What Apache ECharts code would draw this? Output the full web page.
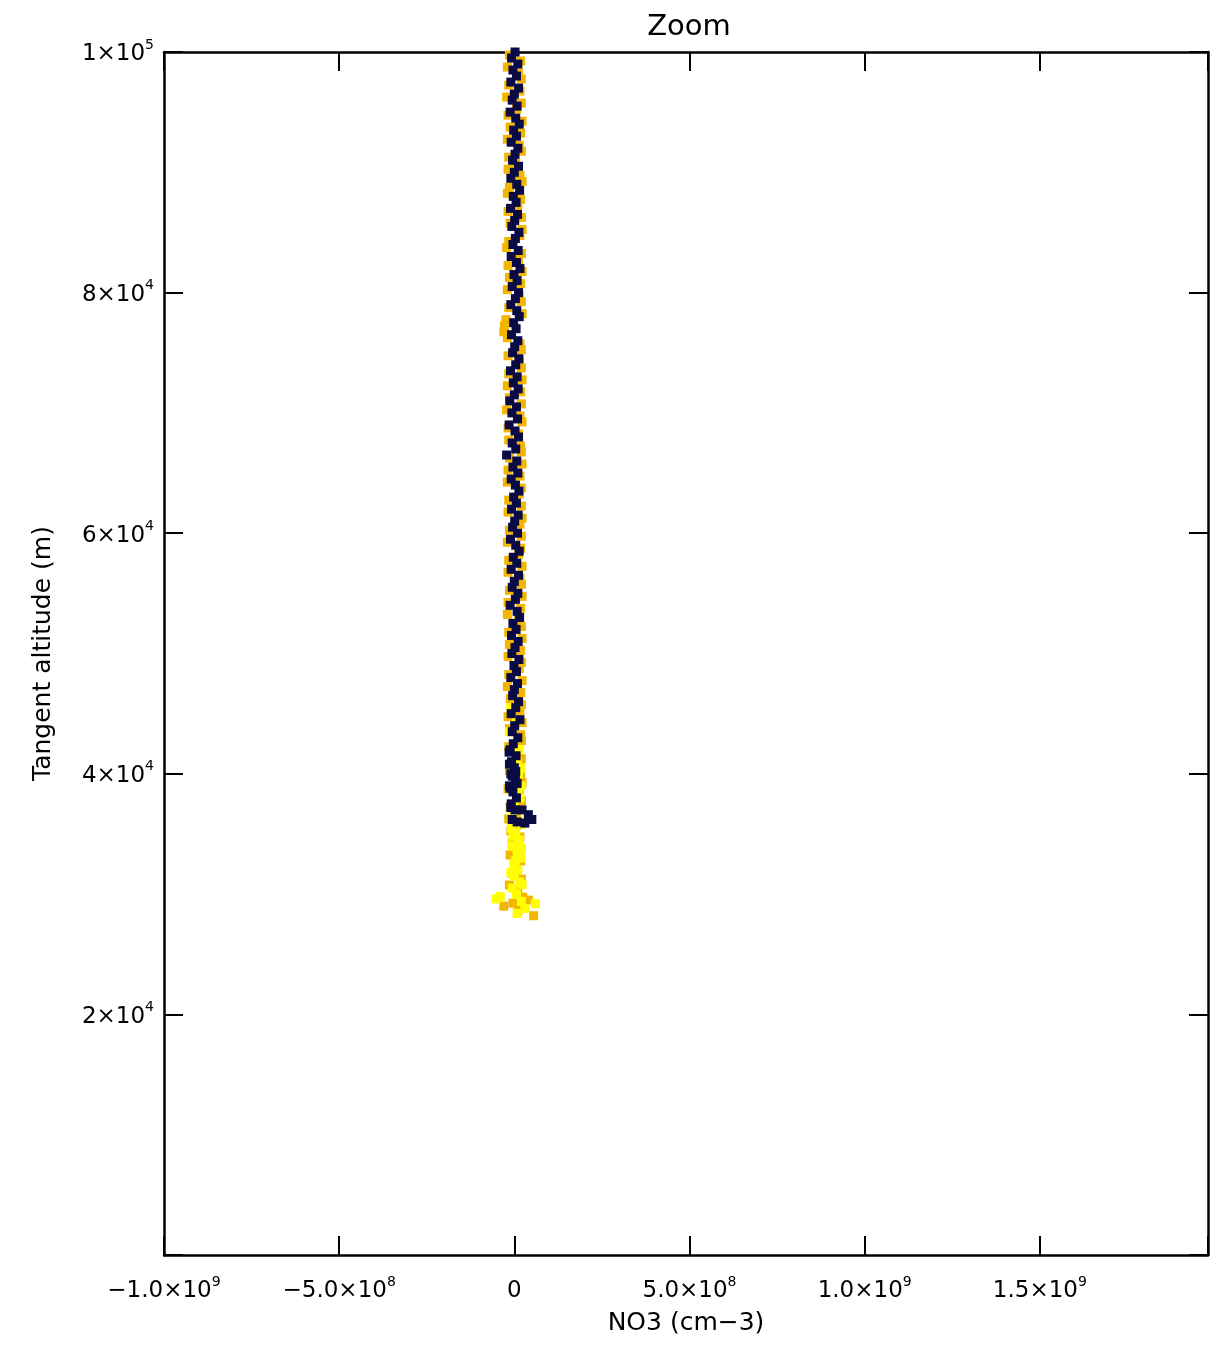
<!DOCTYPE html>
<html>
<head>
<meta charset="utf-8">
<script src="https://cdn.jsdelivr.net/npm/echarts@6/dist/echarts.min.js"></script>
<style>
  html, body { margin: 0; padding: 0; background: #fff; }
  #main { width: 1223px; height: 1349px; }
</style>
</head>
<body>
<div id="main"></div>
<script>
// tick values
var xTicks = [-1.0e9, -5.0e8, 0, 5.0e8, 1.0e9, 1.5e9];
var yTicks = [2e4, 4e4, 6e4, 8e4, 1e5];

// [NO3 (cm-3), tangent altitude (m)]
var orangePoints = [
  [-14e6, 99750], [18e6, 99250], [-20e6, 98750], [12e6, 98250], [20e6, 97750], [-16e6, 97250],
  [16e6, 96750], [-22e6, 96250], [20e6, 95750], [6e6, 95250], [-18e6, 94750], [22e6, 94250],
  [-12e6, 93750], [18e6, 93250], [-20e6, 92750], [14e6, 92250], [20e6, 91750], [-16e6, 91250],
  [4e6, 90750], [-18e6, 90250], [16e6, 89750], [22e6, 89250], [-14e6, 88750], [-20e6, 88250],
  [18e6, 87750], [10e6, 87250], [-18e6, 86750], [20e6, 86250], [-12e6, 85750], [22e6, 85250],
  [16e6, 84750], [-16e6, 84250], [-22e6, 83750], [20e6, 83250], [12e6, 82750], [-18e6, 82250],
  [22e6, 81750], [-14e6, 81250], [18e6, 80750], [-20e6, 80250], [14e6, 79750], [20e6, 79250],
  [-16e6, 78750], [22e6, 78250], [-24e6, 77750], [-28e6, 77250], [-30e6, 76750], [-20e6, 76250],
  [16e6, 75750], [20e6, 75250], [-18e6, 74750], [14e6, 74250], [20e6, 73750], [-16e6, 73250],
  [22e6, 72750], [-20e6, 72250], [18e6, 71750], [-14e6, 71250], [20e6, 70750], [-22e6, 70250],
  [16e6, 69750], [22e6, 69250], [-18e6, 68750], [12e6, 68250], [-16e6, 67750], [18e6, 67250],
  [20e6, 66750], [-14e6, 66250], [22e6, 65750], [-18e6, 65250], [16e6, 64750], [-20e6, 64250],
  [20e6, 63750], [14e6, 63250], [-16e6, 62750], [20e6, 62250], [-18e6, 61750], [22e6, 61250],
  [16e6, 60750], [-14e6, 60250], [20e6, 59750], [-20e6, 59250], [18e6, 58750], [12e6, 58250],
  [-16e6, 57750], [22e6, 57250], [-18e6, 56750], [16e6, 56250], [20e6, 55750], [-14e6, 55250],
  [22e6, 54750], [-18e6, 54250], [18e6, 53750], [-20e6, 53250], [12e6, 52750], [20e6, 52250],
  [-16e6, 51750], [22e6, 51250], [-14e6, 50750], [18e6, 50250], [-18e6, 49750], [20e6, 49250],
  [14e6, 48750], [-16e6, 48250], [22e6, 47750], [-20e6, 47250], [18e6, 46750], [-12e6, 46250],
  [20e6, 45750], [16e6, 45250], [-18e6, 44750], [22e6, 44250], [-14e6, 43750], [18e6, 43250],
  [20e6, 42750], [-16e6, 42250], [12e6, 41750], [20e6, 41250], [16e6, 40750], [-14e6, 40250],
  [18e6, 39750], [22e6, 39250], [-18e6, 38750], [14e6, 38250], [20e6, 37750], [-12e6, 37250],
  [6e6, 36750], [-16e6, 36250], [8e6, 35750], [-10e6, 35250], [16e6, 34750], [-6e6, 34250],
  [12e6, 33750], [-12e6, 33250], [18e6, 32750], [2e6, 32250], [-8e6, 31750], [20e6, 31250],
  [-14e6, 30750], [10e6, 30250], [24e6, 29750], [-4e6, 29250], [18e6, 28900], [40e6, 29500],
  [10e6, 28600], [55e6, 28200], [-30e6, 29000]
];

var yellowPoints = [
  [-10e6, 45500], [6e6, 44500], [-14e6, 43500], [10e6, 43000], [14e6, 42000], [8e6, 41000],
  [18e6, 40500], [12e6, 40000], [20e6, 39000], [10e6, 38500], [16e6, 38000], [0, 37500],
  [8e6, 37000], [-4e6, 36500], [12e6, 36000], [-8e6, 35500], [4e6, 35000], [14e6, 34500],
  [-6e6, 34000], [8e6, 33500], [18e6, 33000], [-2e6, 32500], [10e6, 32000], [0, 31500],
  [14e6, 31000], [-6e6, 30500], [6e6, 30000], [-40e6, 29800], [-52e6, 29600], [20e6, 29400],
  [60e6, 29200], [30e6, 28800], [8e6, 28400], [22e6, 30800], [-10e6, 31800], [20e6, 33800],
  [4e6, 32800], [-4e6, 34800], [20e6, 35800]
];

var navyPoints = [
  [2e6, 100000], [-8e6, 99500], [10e6, 99000], [-4e6, 98500], [6e6, 98000], [-10e6, 97500],
  [12e6, 97000], [0, 96500], [-6e6, 96000], [8e6, 95500], [-12e6, 95000], [4e6, 94500],
  [14e6, 94000], [-2e6, 93500], [6e6, 93000], [-9e6, 92500], [10e6, 92000], [2e6, 91500],
  [-5e6, 91000], [12e6, 90500], [0, 90000], [-10e6, 89500], [7e6, 89000], [15e6, 88500],
  [-3e6, 88000], [5e6, 87500], [-11e6, 87000], [9e6, 86500], [1e6, 86000], [-7e6, 85500],
  [13e6, 85000], [3e6, 84500], [-4e6, 84000], [11e6, 83500], [-9e6, 83000], [6e6, 82500],
  [16e6, 82000], [-1e6, 81500], [8e6, 81000], [-6e6, 80500], [12e6, 80000], [3e6, 79500],
  [-10e6, 79000], [7e6, 78500], [14e6, 78000], [-2e6, 77500], [5e6, 77000], [-8e6, 76500],
  [10e6, 76000], [1e6, 75500], [-5e6, 75000], [13e6, 74500], [4e6, 74000], [-11e6, 73500],
  [8e6, 73000], [-3e6, 72500], [11e6, 72000], [0, 71500], [-13e6, 71000], [6e6, 70500],
  [-7e6, 70000], [9e6, 69500], [-15e6, 69000], [2e6, 68500], [12e6, 68000], [-6e6, 67500],
  [4e6, 67000], [-22e6, 66500], [7e6, 66000], [-4e6, 65500], [10e6, 65000], [-9e6, 64500],
  [3e6, 64000], [13e6, 63500], [-2e6, 63000], [6e6, 62500], [-8e6, 62000], [11e6, 61500],
  [1e6, 61000], [-5e6, 60500], [9e6, 60000], [-11e6, 59500], [4e6, 59000], [14e6, 58500],
  [-3e6, 58000], [7e6, 57500], [-9e6, 57000], [12e6, 56500], [0, 56000], [-6e6, 55500],
  [10e6, 55000], [3e6, 54500], [-12e6, 54000], [8e6, 53500], [15e6, 53000], [-4e6, 52500],
  [5e6, 52000], [-8e6, 51500], [11e6, 51000], [2e6, 50500], [-7e6, 50000], [13e6, 49500],
  [-1e6, 49000], [6e6, 48500], [-10e6, 48000], [9e6, 47500], [0, 47000], [-5e6, 46500],
  [12e6, 46000], [4e6, 45500], [-9e6, 45000], [16e6, 44500], [1e6, 44000], [-6e6, 43500],
  [10e6, 43000], [-3e6, 42500], [-12e6, 42000], [5e6, 41500], [-8e6, 41000], [0, 40500],
  [-10e6, 40000], [3e6, 39500], [-14e6, 39000], [-4e6, 38500], [6e6, 38000], [-9e6, 37500],
  [2e6, 37000], [-15e6, 41800], [-14e6, 40800], [-6e6, 39800], [-12e6, 38800], [4e6, 40200],
  [8e6, 39200], [-10e6, 37200], [22e6, 37000], [40e6, 36600], [50e6, 36200], [30e6, 35900],
  [-6e6, 36200], [8e6, 36000]
];

var FONT = 'DejaVu Sans';

function powLabel(v, withDecimal) {
  if (v === 0) return '{m|0}';
  var e = Math.floor(Math.log10(Math.abs(v)) + 1e-9);
  var m = v / Math.pow(10, e);
  var ms = withDecimal ? Math.abs(m).toFixed(1) : String(Math.round(Math.abs(m)));
  return '{m|' + (v < 0 ? '\u2212' : '') + ms + '\u00d710}{e|' + e + '}';
}

var labelRich = {
  m: { fontFamily: FONT, fontSize: 23, color: '#000', lineHeight: 28, verticalAlign: 'bottom' },
  e: { fontFamily: FONT, fontSize: 14, color: '#000', lineHeight: 14, verticalAlign: 'top' }
};

var chart = echarts.init(document.getElementById('main'));

function scatter(name, pts, color) {
  return {
    name: name,
    type: 'scatter',
    data: pts,
    symbol: 'rect',
    symbolSize: 9,
    itemStyle: { color: color, opacity: 1 },
    animation: false
  };
}

var tickStyle = { show: true, inside: true, length: 19, lineStyle: { color: '#000', width: 2 } };
var lineStyle = { show: true, onZero: false, lineStyle: { color: '#000', width: 2.5 } };

var option = {
  backgroundColor: '#fff',
  animation: false,
  title: {
    text: 'Zoom',
    left: 684,
    top: 8,
    textAlign: 'center',
    textStyle: { fontFamily: FONT, fontSize: 29, fontWeight: 'normal', color: '#000' }
  },
  grid: { left: 164, right: 15, top: 52, bottom: 94 },
  xAxis: [{
    type: 'value',
    position: 'bottom',
    min: -1.0e9,
    max: 1.98e9,
    interval: 5e8,
    name: 'NO3 (cm\u22123)',
    nameLocation: 'middle',
    nameGap: 56,
    nameTextStyle: { fontFamily: FONT, fontSize: 25, color: '#000' },
    axisLine: lineStyle,
    axisTick: tickStyle,
    splitLine: { show: false },
    axisLabel: {
      margin: 20,
      rich: labelRich,
      formatter: function (v) {
        if (xTicks.indexOf(v) < 0) return '';
        return powLabel(v, true);
      }
    }
  }, {
    type: 'value',
    position: 'top',
    min: -1.0e9,
    max: 1.98e9,
    interval: 5e8,
    axisLine: lineStyle,
    axisTick: tickStyle,
    axisLabel: { show: false },
    splitLine: { show: false }
  }],
  yAxis: [{
    type: 'value',
    position: 'left',
    min: 0,
    max: 1e5,
    interval: 2e4,
    name: 'Tangent altitude (m)',
    nameLocation: 'middle',
    nameGap: 108,
    nameRotate: 90,
    nameTextStyle: { fontFamily: FONT, fontSize: 25, color: '#000' },
    axisLine: lineStyle,
    axisTick: tickStyle,
    splitLine: { show: false },
    axisLabel: {
      margin: 10,
      rich: labelRich,
      formatter: function (v) {
        if (yTicks.indexOf(v) < 0) return '';
        return powLabel(v, false);
      }
    }
  }, {
    type: 'value',
    position: 'right',
    min: 0,
    max: 1e5,
    interval: 2e4,
    axisLine: lineStyle,
    axisTick: tickStyle,
    axisLabel: { show: false },
    splitLine: { show: false }
  }],
  series: [
    scatter('orange', orangePoints, '#f2b600'),
    scatter('yellow', yellowPoints, '#ffff00'),
    scatter('navy', navyPoints, '#0a0a44')
  ]
};

chart.setOption(option);
</script>
</body>
</html>
